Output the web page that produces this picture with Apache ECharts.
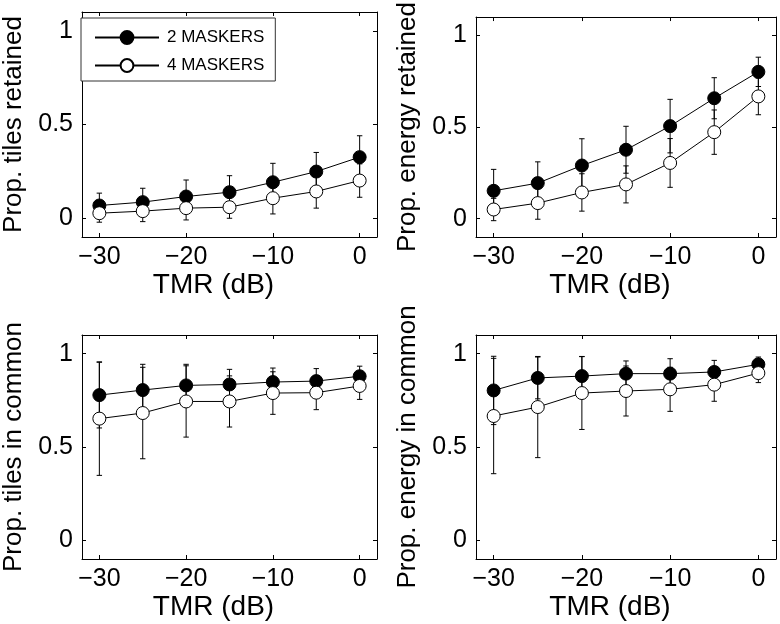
<!DOCTYPE html>
<html><head><meta charset="utf-8">
<script src="https://cdn.jsdelivr.net/npm/echarts@6/dist/echarts.min.js"></script>
<style>html,body{margin:0;padding:0;background:#fff}#c{width:780px;height:624px}</style>
</head><body><div id="c"></div>
<script>
// ---- data ----
const tmr = [-30, -25, -20, -15, -10, -5, 0];
const xTicks = [-30, -20, -10, 0];
const yTicks = [0, 0.5, 1];
const seriesNames = ['2 MASKERS', '4 MASKERS'];
const yTitles = ['Prop. tiles retained', 'Prop. energy retained', 'Prop. tiles in common', 'Prop. energy in common'];
const xTitle = 'TMR (dB)';

// Panel 1: tiles retained
const m2TilesRet    = [0.068, 0.086, 0.116, 0.139, 0.192, 0.249, 0.326];
const m2TilesRetErr = [0.066, 0.074, 0.088, 0.088, 0.101, 0.102, 0.114];
const m4TilesRet    = [0.027, 0.038, 0.054, 0.059, 0.107, 0.143, 0.201];
const m4TilesRetErr = [0.048, 0.056, 0.063, 0.059, 0.084, 0.089, 0.089];
// Panel 2: energy retained
const m2EnRet    = [0.152, 0.194, 0.290, 0.376, 0.505, 0.657, 0.801];
const m2EnRetErr = [0.117, 0.116, 0.146, 0.128, 0.146, 0.112, 0.080];
const m4EnRet    = [0.050, 0.085, 0.143, 0.187, 0.304, 0.472, 0.667];
const m4EnRetErr = [0.061, 0.088, 0.102, 0.101, 0.133, 0.121, 0.100];
// Panel 3: tiles in common
const m2TilesCom    = [0.778, 0.805, 0.830, 0.835, 0.848, 0.853, 0.879];
const m2TilesComErr = [0.176, 0.138, 0.113, 0.081, 0.075, 0.067, 0.054];
const m4TilesCom    = [0.652, 0.682, 0.744, 0.744, 0.789, 0.791, 0.827];
const m4TilesComErr = [0.304, 0.245, 0.191, 0.137, 0.114, 0.091, 0.072];
// Panel 4: energy in common
const m2EnCom    = [0.803, 0.870, 0.880, 0.893, 0.893, 0.902, 0.943];
const m2EnComErr = [0.183, 0.112, 0.105, 0.068, 0.080, 0.062, 0.039];
const m4EnCom    = [0.666, 0.714, 0.789, 0.800, 0.809, 0.834, 0.896];
const m4EnComErr = [0.309, 0.271, 0.195, 0.134, 0.118, 0.089, 0.051];

// ---- layout ----
const FONT = '"Liberation Sans", Arial, Helvetica, sans-serif';
const panels = [
  {left: 77,  top: 12,  height: 225, m2: m2TilesRet, m2e: m2TilesRetErr, m4: m4TilesRet, m4e: m4TilesRetErr},
  {left: 476, top: 12,  height: 225, m2: m2EnRet,    m2e: m2EnRetErr,    m4: m4EnRet,    m4e: m4EnRetErr},
  {left: 77,  top: 335, height: 224, m2: m2TilesCom, m2e: m2TilesComErr, m4: m4TilesCom, m4e: m4TilesComErr},
  {left: 476, top: 335, height: 224, m2: m2EnCom,    m2e: m2EnComErr,    m4: m4EnCom,    m4e: m4EnComErr}
];

const fmt = v => String(v).replace('-', '\u2212');
const grid = [], xAxis = [], yAxis = [], series = [];

panels.forEach((p, i) => {
  grid.push({left: p.left, top: p.top, width: 300, height: p.height, containLabel: false});
  const lineS = {show: true, onZero: false, lineStyle: {color: '#000', width: 1}};
  const tickX = {show: true, inside: true, length: 4, lineStyle: {color: '#000'}, customValues: xTicks};
  const tickY = {show: true, inside: true, length: 4, lineStyle: {color: '#000'}, customValues: yTicks};
  xAxis.push({
    type: 'value', gridIndex: i, position: 'bottom', min: -32, max: 2,
    axisLine: lineS, axisTick: tickX, splitLine: {show: false},
    axisLabel: {customValues: xTicks, formatter: fmt, fontSize: 25, color: '#000', fontFamily: FONT, margin: 8},
    name: xTitle, nameLocation: 'middle', nameGap: 32,
    nameTextStyle: {fontSize: 28, color: '#000', fontFamily: FONT, padding: [0, 32, 0, 0]}
  });
  xAxis.push({
    type: 'value', gridIndex: i, position: 'top', min: -32, max: 2,
    axisLine: lineS, axisTick: tickX, splitLine: {show: false}, axisLabel: {show: false}
  });
  yAxis.push({
    type: 'value', gridIndex: i, position: 'left', min: -0.1, max: 1.1,
    axisLine: lineS, axisTick: tickY, splitLine: {show: false},
    axisLabel: {customValues: yTicks, fontSize: 25, color: '#000', fontFamily: FONT, margin: 9},
    name: yTitles[i], nameLocation: 'middle', nameRotate: 90, nameGap: 55,
    nameTextStyle: {fontSize: 26, color: '#000', fontFamily: FONT}
  });
  yAxis.push({
    type: 'value', gridIndex: i, position: 'right', min: -0.1, max: 1.1,
    axisLine: lineS, axisTick: tickY, splitLine: {show: false}, axisLabel: {show: false}
  });

  const errSeries = (ys, es, z) => ({
    type: 'custom', name: 'err', xAxisIndex: 2 * i, yAxisIndex: 2 * i, z: z, silent: true,
    data: tmr.map((x, k) => [x, ys[k] - es[k], ys[k] + es[k]]),
    encode: {x: 0, y: [1, 2]},
    renderItem: (params, api) => {
      const lo = api.coord([api.value(0), api.value(1)]);
      const hi = api.coord([api.value(0), api.value(2)]);
      const w = 2.7;
      const st = {stroke: '#000', lineWidth: 1};
      return {type: 'group', children: [
        {type: 'line', shape: {x1: lo[0], y1: lo[1], x2: hi[0], y2: hi[1]}, style: st},
        {type: 'line', shape: {x1: lo[0] - w, y1: lo[1], x2: lo[0] + w, y2: lo[1]}, style: st},
        {type: 'line', shape: {x1: hi[0] - w, y1: hi[1], x2: hi[0] + w, y2: hi[1]}, style: st}
      ]};
    }
  });
  const lineSeries = (name, ys, fill, z) => ({
    type: 'line', name: name, xAxisIndex: 2 * i, yAxisIndex: 2 * i, z: z,
    data: tmr.map((x, k) => [x, ys[k]]),
    symbol: 'circle', symbolSize: 13, showSymbol: true, silent: true,
    lineStyle: {color: '#000', width: 1},
    itemStyle: {color: fill, borderColor: '#000', borderWidth: 1}
  });
  series.push(errSeries(p.m2, p.m2e, 2));
  series.push(lineSeries(seriesNames[0], p.m2, '#000', 3));
  series.push(errSeries(p.m4, p.m4e, 4));
  series.push(lineSeries(seriesNames[1], p.m4, '#fff', 5));
});

const chart = echarts.init(document.getElementById('c'), null, {renderer: 'canvas'});
chart.setOption({
  animation: false,
  backgroundColor: '#fff',
  grid, xAxis, yAxis, series,
  legend: {
    data: seriesNames, orient: 'vertical', left: 81, top: 18, z: 10,
    itemWidth: 64, itemHeight: 16, itemGap: 11,
    padding: [11, 11, 7, 13],
    borderColor: '#333', borderWidth: 1, backgroundColor: '#fff',
    selectedMode: false,
    textStyle: {fontSize: 17, color: '#000', fontFamily: FONT, padding: [0, 0, 0, 3]}
  }
});
</script></body></html>
